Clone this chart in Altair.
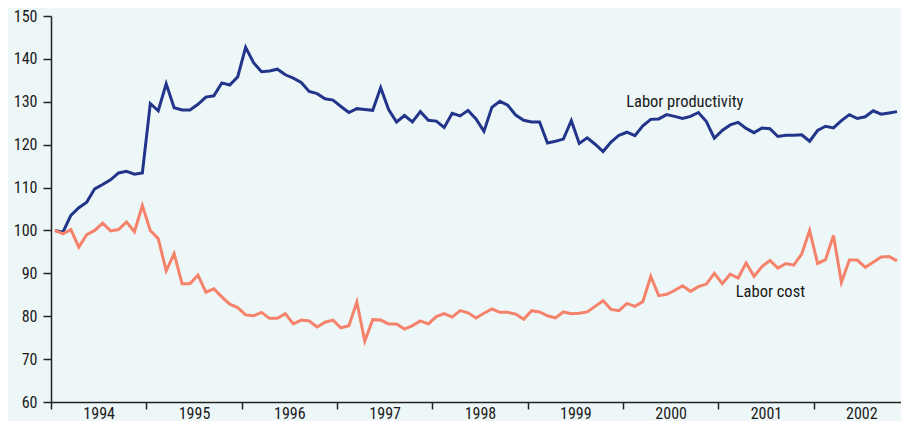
import altair as alt
import pandas as pd

# Monthly index values, Jan 1994 .. Nov 2002 (1994 = 100)
productivity = [
    100.0, 99.6, 103.5, 105.3, 106.6, 109.7, 110.7, 111.8, 113.4, 113.8, 113.1, 113.4,
    129.6, 127.9, 134.2, 128.6, 128.1, 128.1, 129.4, 131.1, 131.4, 134.4, 133.9, 135.8,
    142.7, 139.1, 137.0, 137.2, 137.6, 136.3, 135.5, 134.5, 132.4, 131.9, 130.7, 130.4,
    128.9, 127.5, 128.4, 128.2, 128.0, 133.3, 128.2, 125.3, 126.8, 125.3, 127.7, 125.7,
    125.5, 124.0, 127.3, 126.7, 128.0, 126.0, 123.1, 128.7, 130.1, 129.2, 126.9, 125.7,
    125.3, 125.3, 120.4, 120.8, 121.3, 125.6, 120.3, 121.6, 120.1, 118.4, 120.6, 122.2,
    122.9, 122.1, 124.4, 125.9, 126.0, 127.0, 126.6, 126.1, 126.6, 127.5, 125.4, 121.5,
    123.3, 124.6, 125.2, 123.8, 122.8, 123.9, 123.7, 121.9, 122.2, 122.2, 122.3, 120.8,
    123.3, 124.3, 123.9, 125.6, 127.0, 126.1, 126.5, 127.9, 127.1, 127.4, 127.7,
]
labor_cost = [
    100.0, 99.2, 100.2, 96.1, 99.0, 100.0, 101.7, 99.9, 100.2, 102.0, 99.7, 105.8,
    100.0, 98.1, 90.6, 94.6, 87.6, 87.6, 89.6, 85.6, 86.4, 84.5, 82.8, 82.0,
    80.3, 80.1, 80.9, 79.5, 79.5, 80.6, 78.2, 79.1, 78.9, 77.5, 78.6, 79.1,
    77.3, 77.8, 83.3, 74.2, 79.2, 79.1, 78.2, 78.2, 77.0, 77.8, 78.9, 78.2,
    79.9, 80.6, 79.8, 81.3, 80.8, 79.6, 80.7, 81.7, 80.9, 80.9, 80.5, 79.3,
    81.3, 81.0, 80.1, 79.6, 81.0, 80.6, 80.7, 81.0, 82.3, 83.6, 81.6, 81.3,
    83.0, 82.3, 83.4, 89.3, 84.8, 85.1, 86.0, 87.1, 85.8, 86.9, 87.5, 90.0,
    87.6, 89.8, 88.9, 92.4, 89.3, 91.6, 93.0, 91.2, 92.3, 91.9, 94.5, 100.0,
    92.3, 93.2, 98.8, 87.9, 93.1, 93.1, 91.4, 92.6, 93.8, 93.9, 92.9,
]
series_names = ["Labor productivity", "Labor cost"]
series_colors = ["#22358a", "#f5826b"]
year_start = 1994
y_ticks = [60, 70, 80, 90, 100, 110, 120, 130, 140, 150]

rows = []
for name, vals in zip(series_names, [productivity, labor_cost]):
    for i, v in enumerate(vals):
        rows.append({"m": i + 0.5, "v": v, "series": name})
df = pd.DataFrame(rows)

labels = pd.DataFrame({
    "text": ["Labor productivity", "Labor cost"],
    "m": [72.4, 86.2],
    "v": [128.8, 84.4],
})

FONT = "Liberation Sans Narrow, Arial Narrow, Roboto Condensed, Liberation Sans, sans-serif"
W, H = 850, 386
n_months = 107

xscale = alt.Scale(domain=[0, n_months], nice=False, zero=False)
yscale = alt.Scale(domain=[60, 150], nice=False, zero=False)

x_values = list(range(0, 103, 6))  # year boundaries and mid-years

lines = alt.Chart(df).mark_line(strokeWidth=3).encode(
    x=alt.X("m:Q", scale=xscale, axis=alt.Axis(
        values=x_values,
        labelExpr=f"datum.value % 12 == 6 ? toString({year_start} + floor(datum.value / 12)) : ''",
        tickOpacity={"condition": {"test": "datum.value % 12 == 6", "value": 0}, "value": 1},
        title=None, grid=False, tickSize=7, tickWidth=1.5, tickColor="#222",
        domainColor="#222", domainWidth=1.5, labelPadding=-4,
        labelFont=FONT, labelFontSize=16, labelColor="#1a1a1a",
        labelFlush=False, labelOverlap=False)),
    y=alt.Y("v:Q", scale=yscale, axis=alt.Axis(
        values=y_ticks, title=None, grid=False, tickSize=8, tickWidth=1.5,
        tickColor="#222", domainColor="#222", domainWidth=1.5, labelPadding=6,
        labelFont=FONT, labelFontSize=16, labelColor="#1a1a1a")),
    color=alt.Color("series:N", scale=alt.Scale(domain=series_names, range=series_colors), legend=None),
)

text = alt.Chart(labels).mark_text(
    align="left", baseline="alphabetic", font=FONT, fontSize=16.5, color="#1a1a1a"
).encode(
    x=alt.X("m:Q", scale=xscale),
    y=alt.Y("v:Q", scale=yscale),
    text="text:N",
)

chart = alt.layer(lines, text).properties(
    width=W, height=H,
    background="#eef7f7",
    padding={"left": 43, "top": 8, "right": 0, "bottom": 19},
    autosize=alt.AutoSizeParams(type="none"),
).configure_view(strokeWidth=0)

chart.save("out.html", embed_options={"renderer": "svg", "actions": False})
